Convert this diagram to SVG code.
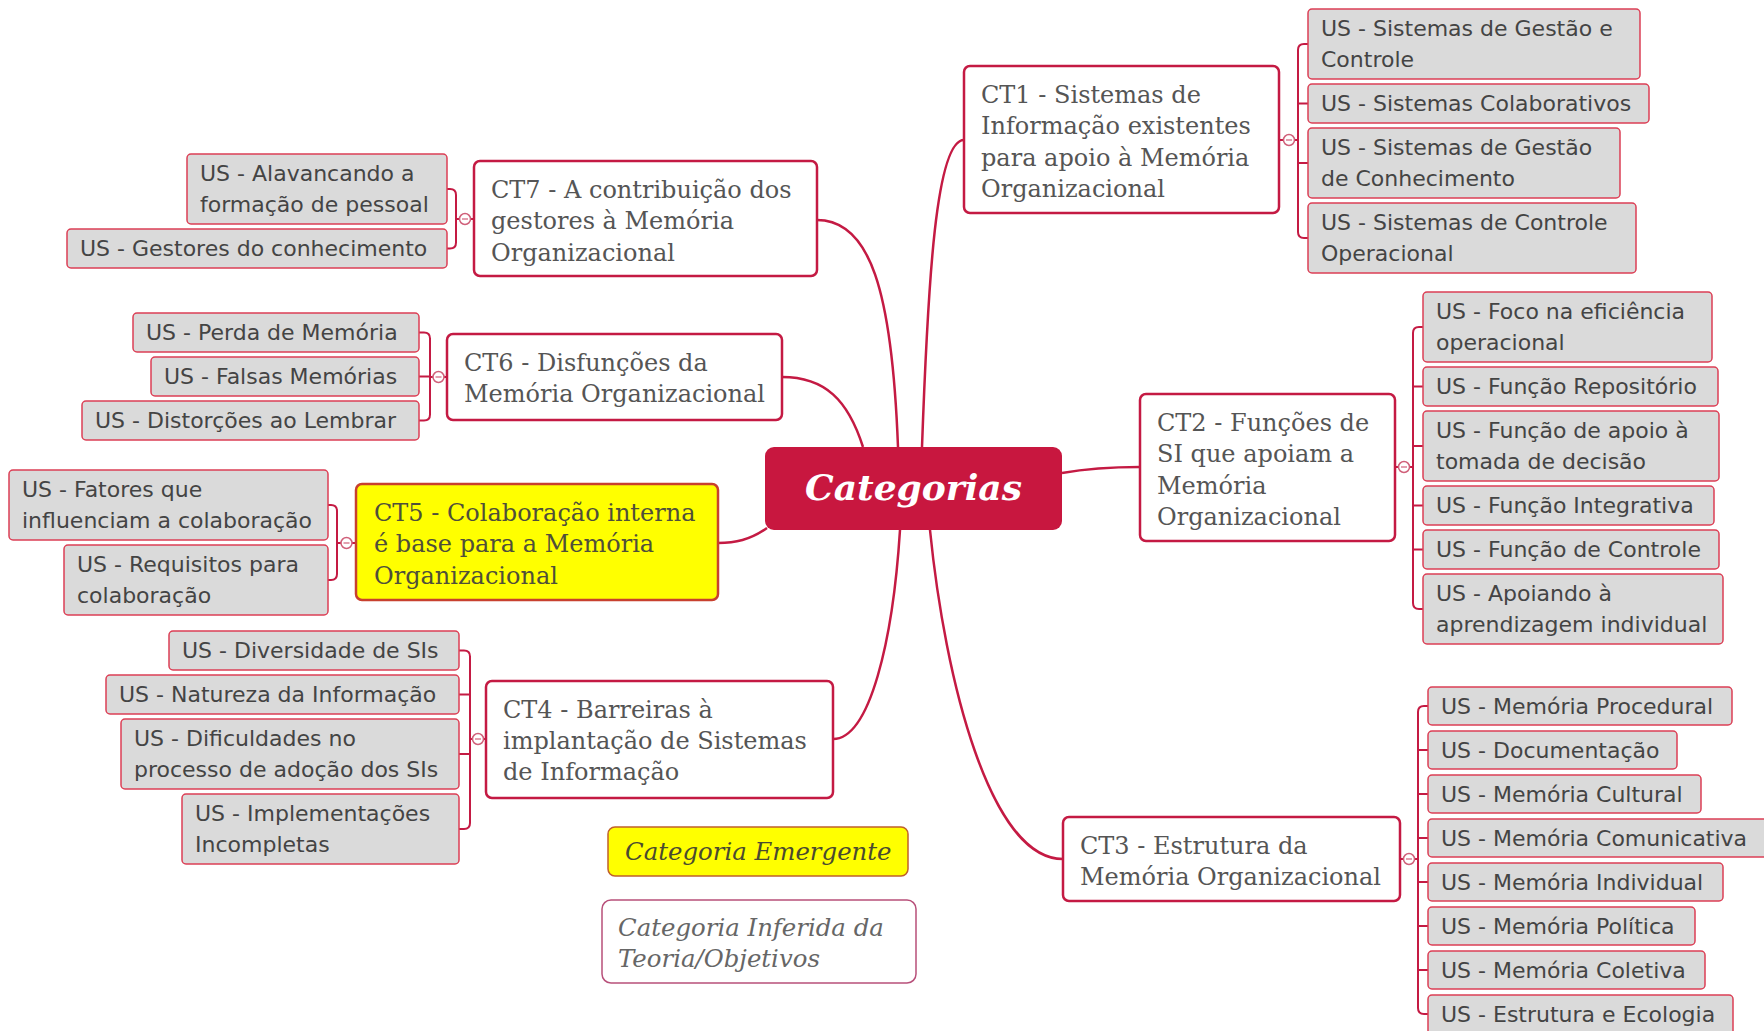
<svg xmlns="http://www.w3.org/2000/svg" width="1764" height="1031" viewBox="0 0 1764 1031">
<style>
.ct rect{fill:#fff;stroke:#c41a43;stroke-width:2.5}
.ct text{font-family:"DejaVu Serif",serif;font-size:24px;fill:#555}
.ct5 rect{fill:#ffff00;stroke:#c8402e}
.ct5 text{fill:#4f4f3a}
.us rect{fill:#dadada;stroke:#dc3f55;stroke-width:1.5}
.us text{font-family:"DejaVu Sans",sans-serif;font-size:22px;fill:#444}
.conn path{fill:none;stroke:#c41a43;stroke-width:2.5}
.conn .br{stroke-width:2}
.conn circle{fill:#fff;stroke:#d0607a;stroke-width:1.5}
.conn .minus{stroke:#d0607a;stroke-width:1.2}
.leg text{font-family:"DejaVu Serif",serif;font-style:italic;font-size:24.4px}
</style>
<rect width="1764" height="1031" fill="#fff"/>
<g id="connectors" class="conn">
<path d="M922,447 C928,280 936,140 964,140"/>
<path d="M898,447 C892,290 870,220 817,220"/>
<path d="M863,447 C848,400 825,377 782,377"/>
<path d="M767,528 C750,540 735,543 718,543"/>
<path d="M900,530 C893,640 870,739 833,739"/>
<path d="M930,530 C945,680 990,859 1063,859"/>
<path d="M1062,473 C1090,468 1110,467 1140,467"/>
<path class="br" d="M1308,44 H1304 Q1298,44 1298,50 V232 Q1298,238 1304,238 H1308 M1298,103.5 H1308 M1298,163 H1308 M1279,140 H1298"/>
<path class="br" d="M1423,327 H1419 Q1413,327 1413,333 V603 Q1413,609 1419,609 H1423 M1413,386.5 H1423 M1413,446 H1423 M1413,505.5 H1423 M1413,549.5 H1423 M1395,467 H1413"/>
<path class="br" d="M1428,706 H1424 Q1418,706 1418,712 V1008 Q1418,1014 1424,1014 H1428 M1418,750 H1428 M1418,794 H1428 M1418,838 H1428 M1418,882 H1428 M1418,926 H1428 M1418,970 H1428 M1400,859 H1418"/>
<path class="br" d="M459,650.5 H464 Q470,650.5 470,656.5 V823 Q470,829 464,829 H459 M470,694.5 H459 M470,754 H459 M486,739 H470"/>
<path class="br" d="M328,505 H331 Q337,505 337,511 V574 Q337,580 331,580 H328 M356,543 H337"/>
<path class="br" d="M419,332.5 H424 Q430,332.5 430,338.5 V414.5 Q430,420.5 424,420.5 H419 M430,376.5 H419 M447,377 H430"/>
<path class="br" d="M447,189 H450 Q456,189 456,195 V242.5 Q456,248.5 450,248.5 H447 M474,219 H456"/>
<circle cx="1289" cy="140" r="5.5"/><path class="minus" d="M1286,140 H1292"/>
<circle cx="1404" cy="467" r="5.5"/><path class="minus" d="M1401,467 H1407"/>
<circle cx="1409" cy="859" r="5.5"/><path class="minus" d="M1406,859 H1412"/>
<circle cx="478" cy="739" r="5.5"/><path class="minus" d="M475,739 H481"/>
<circle cx="346.5" cy="543" r="5.5"/><path class="minus" d="M343.5,543 H349.5"/>
<circle cx="438.5" cy="377" r="5.5"/><path class="minus" d="M435.5,377 H441.5"/>
<circle cx="465" cy="219" r="5.5"/><path class="minus" d="M462,219 H468"/>
</g>
<g id="root">
<rect x="765" y="447" width="297" height="83" rx="9" fill="#c8173f"/>
<text x="913.5" y="500" text-anchor="middle" font-family="DejaVu Serif,serif" font-weight="bold" font-style="italic" font-size="36" fill="#fff">Categorias</text>
</g>
<g id="ct1" class="ct"><rect x="964" y="66" width="315" height="147" rx="6"/><text><tspan x="981" y="103">CT1 - Sistemas de</tspan><tspan x="981" y="134">Informação existentes</tspan><tspan x="981" y="166">para apoio à Memória</tspan><tspan x="981" y="197">Organizacional</tspan></text></g>
<g id="ct2" class="ct"><rect x="1140" y="394" width="255" height="147" rx="6"/><text><tspan x="1157" y="431">CT2 - Funções de</tspan><tspan x="1157" y="462">SI que apoiam a</tspan><tspan x="1157" y="494">Memória</tspan><tspan x="1157" y="525">Organizacional</tspan></text></g>
<g id="ct3" class="ct"><rect x="1063" y="817" width="337" height="84" rx="6"/><text><tspan x="1080" y="854">CT3 - Estrutura da</tspan><tspan x="1080" y="885">Memória Organizacional</tspan></text></g>
<g id="ct4" class="ct"><rect x="486" y="681" width="347" height="117" rx="6"/><text><tspan x="503" y="718">CT4 - Barreiras à</tspan><tspan x="503" y="749">implantação de Sistemas</tspan><tspan x="503" y="780">de Informação</tspan></text></g>
<g id="ct5" class="ct ct5"><rect x="356" y="484" width="362" height="116" rx="6"/><text><tspan x="374" y="521">CT5 - Colaboração interna</tspan><tspan x="374" y="552">é base para a Memória</tspan><tspan x="374" y="584">Organizacional</tspan></text></g>
<g id="ct6" class="ct"><rect x="447" y="334" width="335" height="86" rx="6"/><text><tspan x="464" y="371">CT6 - Disfunções da</tspan><tspan x="464" y="402">Memória Organizacional</tspan></text></g>
<g id="ct7" class="ct"><rect x="474" y="161" width="343" height="115" rx="6"/><text><tspan x="491" y="198">CT7 - A contribuição dos</tspan><tspan x="491" y="229">gestores à Memória</tspan><tspan x="491" y="261">Organizacional</tspan></text></g>
<g id="u1a" class="us"><rect x="1308" y="9" width="332" height="70" rx="4"/><text><tspan x="1321" y="36">US - Sistemas de Gestão e</tspan><tspan x="1321" y="67">Controle</tspan></text></g>
<g id="u1b" class="us"><rect x="1308" y="84" width="341" height="39" rx="4"/><text x="1321" y="111">US - Sistemas Colaborativos</text></g>
<g id="u1c" class="us"><rect x="1308" y="128" width="312" height="70" rx="4"/><text><tspan x="1321" y="155">US - Sistemas de Gestão</tspan><tspan x="1321" y="186">de Conhecimento</tspan></text></g>
<g id="u1d" class="us"><rect x="1308" y="203" width="328" height="70" rx="4"/><text><tspan x="1321" y="230">US - Sistemas de Controle</tspan><tspan x="1321" y="261">Operacional</tspan></text></g>
<g id="u2a" class="us"><rect x="1423" y="292" width="289" height="70" rx="4"/><text><tspan x="1436" y="319">US - Foco na eficiência</tspan><tspan x="1436" y="350">operacional</tspan></text></g>
<g id="u2b" class="us"><rect x="1423" y="367" width="295" height="39" rx="4"/><text x="1436" y="394">US - Função Repositório</text></g>
<g id="u2c" class="us"><rect x="1423" y="411" width="296" height="70" rx="4"/><text><tspan x="1436" y="438">US - Função de apoio à</tspan><tspan x="1436" y="469">tomada de decisão</tspan></text></g>
<g id="u2d" class="us"><rect x="1423" y="486" width="291" height="39" rx="4"/><text x="1436" y="513">US - Função Integrativa</text></g>
<g id="u2e" class="us"><rect x="1423" y="530" width="296" height="39" rx="4"/><text x="1436" y="557">US - Função de Controle</text></g>
<g id="u2f" class="us"><rect x="1423" y="574" width="300" height="70" rx="4"/><text><tspan x="1436" y="601">US - Apoiando à</tspan><tspan x="1436" y="632">aprendizagem individual</tspan></text></g>
<g id="u3a" class="us"><rect x="1428" y="687" width="304" height="38" rx="4"/><text x="1441" y="714">US - Memória Procedural</text></g>
<g id="u3b" class="us"><rect x="1428" y="731" width="249" height="38" rx="4"/><text x="1441" y="758">US - Documentação</text></g>
<g id="u3c" class="us"><rect x="1428" y="775" width="273" height="38" rx="4"/><text x="1441" y="802">US - Memória Cultural</text></g>
<g id="u3d" class="us"><rect x="1428" y="819" width="340" height="38" rx="4"/><text x="1441" y="846">US - Memória Comunicativa</text></g>
<g id="u3e" class="us"><rect x="1428" y="863" width="295" height="38" rx="4"/><text x="1441" y="890">US - Memória Individual</text></g>
<g id="u3f" class="us"><rect x="1428" y="907" width="267" height="38" rx="4"/><text x="1441" y="934">US - Memória Política</text></g>
<g id="u3g" class="us"><rect x="1428" y="951" width="277" height="38" rx="4"/><text x="1441" y="978">US - Memória Coletiva</text></g>
<g id="u3h" class="us"><rect x="1428" y="995" width="305" height="40" rx="4"/><text x="1441" y="1022">US - Estrutura e Ecologia</text></g>
<g id="u4a" class="us"><rect x="169" y="631" width="290" height="39" rx="4"/><text x="182" y="658">US - Diversidade de SIs</text></g>
<g id="u4b" class="us"><rect x="106" y="675" width="353" height="39" rx="4"/><text x="119" y="702">US - Natureza da Informação</text></g>
<g id="u4c" class="us"><rect x="121" y="719" width="338" height="70" rx="4"/><text><tspan x="134" y="746">US - Dificuldades no</tspan><tspan x="134" y="777">processo de adoção dos SIs</tspan></text></g>
<g id="u4d" class="us"><rect x="182" y="794" width="277" height="70" rx="4"/><text><tspan x="195" y="821">US - Implementações</tspan><tspan x="195" y="852">Incompletas</tspan></text></g>
<g id="u5a" class="us"><rect x="9" y="470" width="319" height="70" rx="4"/><text><tspan x="22" y="497">US - Fatores que</tspan><tspan x="22" y="528">influenciam a colaboração</tspan></text></g>
<g id="u5b" class="us"><rect x="64" y="545" width="264" height="70" rx="4"/><text><tspan x="77" y="572">US - Requisitos para</tspan><tspan x="77" y="603">colaboração</tspan></text></g>
<g id="u6a" class="us"><rect x="133" y="313" width="286" height="39" rx="4"/><text x="146" y="340">US - Perda de Memória</text></g>
<g id="u6b" class="us"><rect x="151" y="357" width="268" height="39" rx="4"/><text x="164" y="384">US - Falsas Memórias</text></g>
<g id="u6c" class="us"><rect x="82" y="401" width="337" height="39" rx="4"/><text x="95" y="428">US - Distorções ao Lembrar</text></g>
<g id="u7a" class="us"><rect x="187" y="154" width="260" height="70" rx="4"/><text><tspan x="200" y="181">US - Alavancando a</tspan><tspan x="200" y="212">formação de pessoal</tspan></text></g>
<g id="u7b" class="us"><rect x="67" y="229" width="380" height="39" rx="4"/><text x="80" y="256">US - Gestores do conhecimento</text></g>
<g id="leg-emergente" class="leg"><rect x="608" y="827" width="300" height="49" rx="7" fill="#ffff00" stroke="#c0602a" stroke-width="1.5"/><text x="625" y="860" fill="#4a4a30">Categoria Emergente</text></g>
<g id="leg-inferida" class="leg"><rect x="602" y="900" width="314" height="83" rx="9" fill="#fff" stroke="#b8507a" stroke-width="1.5"/><text fill="#666"><tspan x="618" y="936">Categoria Inferida da</tspan><tspan x="618" y="967">Teoria/Objetivos</tspan></text></g>
</svg>
